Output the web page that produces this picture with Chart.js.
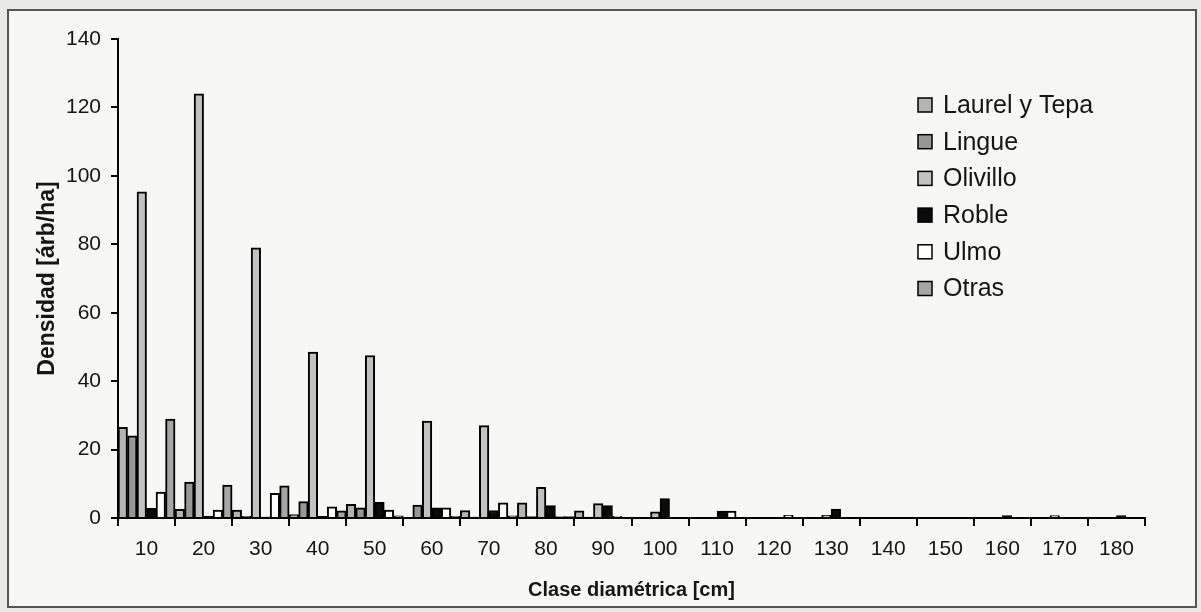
<!DOCTYPE html>
<html>
<head>
<meta charset="utf-8">
<script src="https://cdn.jsdelivr.net/npm/chart.js@4.4.1/dist/chart.umd.min.js"></script>
<style>
  html, body { margin: 0; padding: 0; background: #e9e9e7; }
  #wrap { width: 1201px; height: 612px; position: relative; }
</style>
</head>
<body>
<div id="wrap"><canvas id="myChart" width="1201" height="612"></canvas></div>
<script>
// clases diametricas (cm)
var clases = ['10','20','30','40','50','60','70','80','90','100','110','120','130','140','150','160','170','180'];

// densidad por especie [arb/ha]
var laurel   = [26.5, 2.5, 2.3, 1.0, 4.0, 0,   2.2, 4.4, 2.1, 0,   0,   0,   0,   0, 0, 0,   0,   0];
var lingue   = [24,   10.5, 0.5, 4.8, 3.0, 3.8, 0.3, 0.4, 0.3, 0,   0,   0,   0,   0, 0, 0,   0,   0];
var olivillo = [95.3, 124, 79,  48.5, 47.5, 28.3, 27, 9.0, 4.2, 1.8, 0,   0,   0.8, 0, 0, 0,   0.7, 0];
var roble    = [2.8,  0.5, 0.3, 0.5, 4.6, 3.0, 2.2, 3.6, 3.6, 5.7, 2.0, 0,   2.6, 0, 0, 0.7, 0,   0.7];
var ulmo     = [7.6,  2.3, 7.2, 3.3, 2.3, 3.0, 4.4, 0.4, 0.5, 0,   2.0, 0.8, 0,   0, 0, 0,   0,   0];
var otras    = [28.9, 9.6, 9.4, 2.1, 0.6, 0.5, 0.6, 0.4, 0,   0,   0,   0,   0,   0, 0, 0,   0,   0];

Chart.defaults.font.family = "'Liberation Sans', Arial, sans-serif";
Chart.defaults.color = '#151515';

// fondo y marco de la figura
var marco = {
	id: 'marco',
	beforeDraw: function (chart) {
		var c = chart.ctx;
		c.save();
		c.fillStyle = '#f7f7f5';
		c.fillRect(8, 10, 1188, 597);
		c.strokeStyle = '#555';
		c.lineWidth = 2;
		c.strokeRect(8, 10, 1188, 597);
		c.restore();
	}
};

// leyenda dentro del area del grafico, a la derecha
var leyenda = {
	id: 'leyenda',
	afterDraw: function (chart) {
		var c = chart.ctx;
		c.save();
		c.font = "25px 'Liberation Sans', Arial, sans-serif";
		c.textBaseline = 'middle';
		chart.data.datasets.forEach(function (ds, i) {
			var y = 105 + i * 36.7;
			c.fillStyle = ds.backgroundColor;
			c.fillRect(918, y - 7, 14, 14);
			c.strokeStyle = '#000';
			c.lineWidth = 1.5;
			c.strokeRect(918, y - 7, 14, 14);
			c.fillStyle = '#151515';
			c.fillText(ds.label, 943, y + 1);
		});
		c.restore();
	}
};

var ctx = document.getElementById('myChart').getContext('2d');
var myChart = new Chart(ctx, {
	type: 'bar',
	data: {
		labels: clases,
		datasets: [
			{ label: 'Laurel y Tepa', data: laurel,   backgroundColor: '#b4b4b4' },
			{ label: 'Lingue',        data: lingue,   backgroundColor: '#989898' },
			{ label: 'Olivillo',      data: olivillo, backgroundColor: '#c2c2c2' },
			{ label: 'Roble',         data: roble,    backgroundColor: '#0a0a0a' },
			{ label: 'Ulmo',          data: ulmo,     backgroundColor: '#ffffff' },
			{ label: 'Otras',         data: otras,    backgroundColor: '#a6a6a6' }
		]
	},
	options: {
		responsive: false,
		animation: false,
		layout: { padding: { left: 0, right: 56, top: 39, bottom: 0 } },
		datasets: {
			bar: {
				categoryPercentage: 1,
				barPercentage: 1,
				borderColor: '#000',
				borderWidth: 2
			}
		},
		plugins: {
			legend: { display: false },
			tooltip: { enabled: false }
		},
		scales: {
			x: {
				grid: { offset: true, drawOnChartArea: false, drawTicks: true, tickLength: 8, color: '#000', lineWidth: 2 },
				border: { display: true, color: '#000', width: 2 },
				ticks: { font: { size: 21 }, padding: 11, maxRotation: 0 },
				title: { display: true, text: 'Clase diamétrica [cm]', font: { size: 20, weight: 'bold' }, padding: { top: 0, bottom: 10 } },
				afterFit: function (scale) { scale.height = 94; }
			},
			y: {
				min: 0,
				max: 140,
				ticks: { stepSize: 20, font: { size: 21 }, padding: 10 },
				grid: { drawOnChartArea: false, drawTicks: true, tickLength: 7, color: '#000', lineWidth: 2 },
				border: { display: true, color: '#000', width: 2 },
				title: { display: true, text: 'Densidad [árb/ha]', font: { size: 23, weight: 'bold' }, padding: { top: 34, bottom: 0 } },
				afterFit: function (scale) { scale.width = 118; }
			}
		}
	},
	plugins: [marco, leyenda]
});
</script>
</body>
</html>
